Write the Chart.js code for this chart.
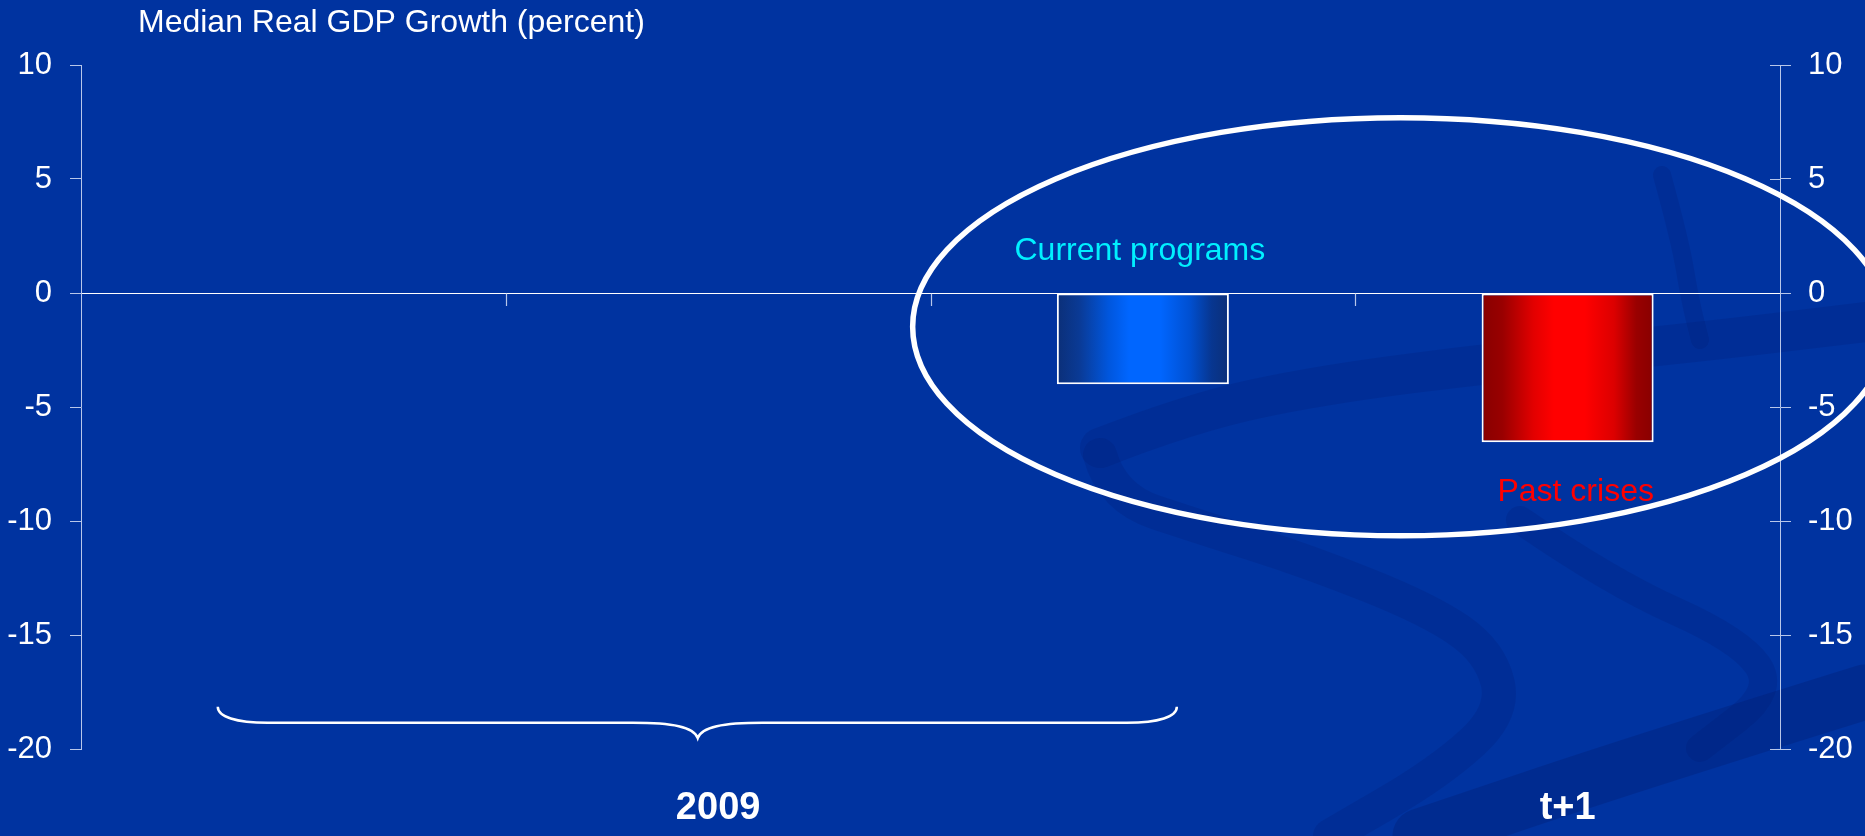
<!DOCTYPE html>
<html>
<head>
<meta charset="utf-8">
<script src="https://cdn.jsdelivr.net/npm/chart.js@4.4.1/dist/chart.umd.min.js"></script>
<style>
  html, body { margin: 0; padding: 0; background: #0033a0; overflow: hidden; }
  #wrap { width: 1865px; height: 836px; position: relative; }
</style>
</head>
<body>
<div id="wrap"><canvas id="c" width="1865" height="836"></canvas></div>
<script>
// ---- data ----
const categories = ['', '2009', '', 't+1'];
const currentPrograms = [null, null, -4.0, null];
const pastCrises = [null, null, null, -6.55];
const yTicks = [-20, -15, -10, -5, 0, 5, 10];
const seriesNames = ['Current programs', 'Past crises'];
const chartTitle = 'Median Real GDP Growth (percent)';

// ---- styling ----
const FONT = "'Liberation Sans', Arial, Helvetica, sans-serif";
const BG = '#0033a0';
const AXIS_COLOR = 'rgba(225,232,250,0.82)';
const BAR_PCT = 0.405;

const blueStops = [
  [0, '#0b2f78'], [0.13, '#0a3a95'], [0.3, '#0056dd'], [0.42, '#0066ff'],
  [0.6, '#0066ff'], [0.77, '#0050d2'], [0.9, '#073690'], [1, '#0b2f78']
];
const redStops = [
  [0, '#880000'], [0.12, '#990000'], [0.3, '#e20000'], [0.42, '#ff0000'],
  [0.6, '#ff0000'], [0.77, '#dc0000'], [0.9, '#990000'], [1, '#880000']
];

Chart.defaults.font.family = FONT;

// Horizontal light-dark-light shading across each bar
function barGradient(stops) {
  return (ctx) => {
    const chart = ctx.chart;
    const xs = chart.scales && chart.scales.x;
    if (!xs || ctx.type !== 'data' || !chart.chartArea) return stops[3][1];
    const cw = xs.width / categories.length;
    const cx = xs.getPixelForValue(ctx.dataIndex);
    const half = cw * BAR_PCT / 2;
    const g = chart.ctx.createLinearGradient(cx - half, 0, cx + half, 0);
    stops.forEach(([o, c]) => g.addColorStop(o, c));
    return g;
  };
}

function strokePath(ctx, pts, width, color) {
  ctx.beginPath();
  ctx.moveTo(pts[0][0], pts[0][1]);
  for (let i = 1; i < pts.length - 1; i++) {
    const mx = (pts[i][0] + pts[i + 1][0]) / 2;
    const my = (pts[i][1] + pts[i + 1][1]) / 2;
    ctx.quadraticCurveTo(pts[i][0], pts[i][1], mx, my);
  }
  const last = pts[pts.length - 1];
  ctx.lineTo(last[0], last[1]);
  ctx.lineWidth = width;
  ctx.strokeStyle = color;
  ctx.lineCap = 'round';
  ctx.lineJoin = 'round';
  ctx.stroke();
}

const decor = {
  id: 'decor',
  beforeDraw(chart) {
    const ctx = chart.ctx;
    const W = chart.width, H = chart.height;
    ctx.save();
    ctx.fillStyle = BG;
    ctx.fillRect(0, 0, W, H);
    // darker swooshes in the backdrop
    const shade = 'rgba(0,28,115,0.22)';
    strokePath(ctx, [[1662, 175], [1680, 240], [1690, 300], [1700, 340]], 18, shade);
    strokePath(ctx, [[1100, 448], [1190, 413], [1320, 385], [1500, 362], [1700, 342], [1865, 322]], 40, shade);
    strokePath(ctx, [[1100, 455], [1112, 498], [1200, 527], [1310, 562], [1430, 610], [1490, 652], [1505, 712], [1440, 772], [1330, 836]], 34, shade);
    strokePath(ctx, [[1520, 520], [1610, 582], [1740, 640], [1775, 690], [1700, 748]], 28, shade);
    strokePath(ctx, [[1865, 692], [1640, 762], [1420, 836]], 55, 'rgba(0,25,105,0.28)');
    ctx.restore();
  },
  afterDraw(chart) {
    const ctx = chart.ctx;
    const xs = chart.scales.x, ys = chart.scales.y, y2 = chart.scales.y2;
    const px = (v) => xs.getPixelForValue(v);
    const py = (v) => ys.getPixelForValue(v);
    const zero = py(0);
    ctx.save();

    // category boundary ticks hanging from the zero line
    ctx.strokeStyle = AXIS_COLOR;
    ctx.lineWidth = 1.2;
    for (let i = 0; i < categories.length - 1; i++) {
      const bx = Math.round((px(i) + px(i + 1)) / 2) + 0.5;
      ctx.beginPath();
      ctx.moveTo(bx, zero);
      ctx.lineTo(bx, zero + 13);
      ctx.stroke();
    }
    // right axis ticks reach across the axis line
    ctx.lineWidth = 1;
    yTicks.forEach((v) => {
      const ty = Math.round(y2.getPixelForValue(v)) + 0.5;
      ctx.strokeStyle = v === 0 ? '#ffffff' : AXIS_COLOR;
      ctx.beginPath();
      ctx.moveTo(y2.left - 10, ty);
      ctx.lineTo(y2.left, ty);
      ctx.stroke();
    });

    // title
    ctx.fillStyle = '#ffffff';
    ctx.font = '32px ' + FONT;
    ctx.textAlign = 'left';
    ctx.textBaseline = 'alphabetic';
    ctx.fillText(chartTitle, 138, 32);

    // series captions
    ctx.textAlign = 'center';
    ctx.fillStyle = '#00f0ff';
    ctx.fillText(seriesNames[0], px(2) - 3, py(1.46));
    ctx.fillStyle = '#ff0000';
    ctx.fillText(seriesNames[1], px(3.019), py(-9.11));

    // ellipse around the two bars
    const ecx = px(2.607), ecy = py(-1.48);
    const erx = px(2.607 + 1.149) - ecx;
    const ery = py(-1.48 - 9.17) - ecy;
    ctx.beginPath();
    ctx.ellipse(ecx, ecy, erx, ery, 0, 0, Math.PI * 2);
    ctx.strokeStyle = '#ffffff';
    ctx.lineWidth = 5.5;
    ctx.stroke();

    // brace under the first two categories
    const L = px(-0.178), R = px(2.08), T = px(0.952);
    const yEnd = py(-18.15), yMid = py(-18.85), yTip = py(-19.52);
    ctx.beginPath();
    ctx.moveTo(L, yEnd);
    ctx.bezierCurveTo(L, yMid - 6, L + 18, yMid, L + 50, yMid);
    ctx.lineTo(T - 65, yMid);
    ctx.bezierCurveTo(T - 25, yMid, T - 4, yMid + 4, T, yTip);
    ctx.bezierCurveTo(T + 4, yMid + 4, T + 25, yMid, T + 65, yMid);
    ctx.lineTo(R - 50, yMid);
    ctx.bezierCurveTo(R - 18, yMid, R, yMid - 6, R, yEnd);
    ctx.lineWidth = 2.5;
    ctx.strokeStyle = '#ffffff';
    ctx.stroke();

    ctx.restore();
  }
};

const fixTicks = (s) => { s.ticks = yTicks.map((v) => ({ value: v })); };

new Chart(document.getElementById('c'), {
  type: 'bar',
  data: {
    labels: categories,
    datasets: [
      {
        label: seriesNames[0],
        data: currentPrograms,
        backgroundColor: barGradient(blueStops),
        borderColor: '#ffffff',
        borderWidth: 2,
        borderSkipped: false,
        grouped: false,
        barPercentage: BAR_PCT,
        categoryPercentage: 1
      },
      {
        label: seriesNames[1],
        data: pastCrises,
        backgroundColor: barGradient(redStops),
        borderColor: '#ffffff',
        borderWidth: 2,
        borderSkipped: false,
        grouped: false,
        barPercentage: BAR_PCT,
        categoryPercentage: 1
      }
    ]
  },
  options: {
    responsive: false,
    animation: false,
    devicePixelRatio: 1,
    layout: { padding: { top: 65, left: 0, right: 0, bottom: 0 } },
    plugins: { legend: { display: false }, tooltip: { enabled: false }, title: { display: false } },
    scales: {
      x: {
        type: 'category',
        position: 'bottom',
        offset: true,
        grid: { display: false, drawTicks: false },
        border: { display: false },
        ticks: { color: '#ffffff', font: { size: 38, weight: 'bold' }, padding: 37, maxRotation: 0, autoSkip: false },
        afterFit: (s) => { s.height = 87; }
      },
      y: {
        position: 'left',
        min: -20,
        max: 10,
        afterBuildTicks: fixTicks,
        grid: {
          drawOnChartArea: true,
          color: (c) => (c.tick && c.tick.value === 0 ? '#ffffff' : 'rgba(0,0,0,0)'),
          tickColor: AXIS_COLOR,
          tickLength: 11,
          lineWidth: 1
        },
        border: { color: AXIS_COLOR, width: 1 },
        ticks: { color: '#ffffff', font: { size: 31 }, padding: 18 },
        afterFit: (s) => { s.width = 81; }
      },
      y2: {
        position: 'right',
        min: -20,
        max: 10,
        afterBuildTicks: fixTicks,
        grid: { drawOnChartArea: false, tickColor: AXIS_COLOR, tickLength: 11 },
        border: { color: AXIS_COLOR, width: 1 },
        ticks: { color: '#ffffff', font: { size: 31 }, padding: 17 },
        afterFit: (s) => { s.width = 85; }
      }
    }
  },
  plugins: [decor]
});
</script>
</body>
</html>
